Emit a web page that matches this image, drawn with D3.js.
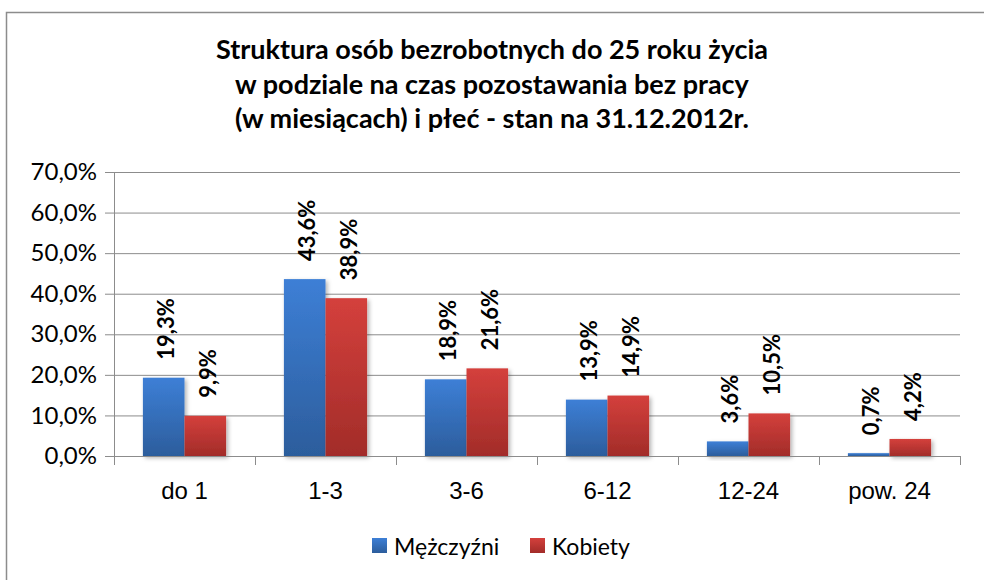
<!DOCTYPE html>
<html>
<head>
<meta charset="utf-8">
<script src="https://cdn.jsdelivr.net/npm/d3@7"></script>
<style>
  body { margin: 0; background: #fff; }
  svg { display: block; font-family: Lato, "Open Sans", sans-serif; }
</style>
</head>
<body>
<svg class="chart" width="984" height="580"></svg>
<script>
const categories = ["do 1", "1-3", "3-6", "6-12", "12-24", "pow. 24"],
      seriesNames = ["Mężczyźni", "Kobiety"],
      men = [19.3, 43.6, 18.9, 13.9, 3.6, 0.7],
      women = [9.9, 38.9, 21.6, 14.9, 10.5, 4.2],
      yTicks = [0, 10, 20, 30, 40, 50, 60, 70],
      titleLines = ["Struktura osób bezrobotnych do 25 roku życia",
                    "w podziale na czas pozostawania bez pracy",
                    "(w miesiącach) i płeć - stan na 31.12.2012r."]

const colors = [["#3d7fd6", "#2c5d9c"], ["#d4403c", "#a22c29"]]

const margin = { top: 172, left: 114 },
      width = 960 - margin.left,
      height = 456 - margin.top

const fmt = v => d3.format(".1f")(v).replace(".", ",") + "%"

const chart = d3.select(".chart")

// outer chart frame (continues past the picture edge)
chart.append("rect")
  .attr("x", 6.5).attr("y", 12.5)
  .attr("width", 1000).attr("height", 600)
  .attr("fill", "none").attr("stroke", "#8c8c8c").attr("stroke-width", 1.5)

const defs = chart.append("defs")
colors.forEach(function(c, i) {
  const gr = defs.append("linearGradient").attr("id", "grad" + i)
    .attr("x1", 0).attr("y1", 0).attr("x2", 0).attr("y2", 1)
  gr.append("stop").attr("offset", "0%").attr("stop-color", c[0])
  gr.append("stop").attr("offset", "100%").attr("stop-color", c[1])
})
const sh = defs.append("filter").attr("id", "shadow")
  .attr("x", "-20%").attr("y", "-20%").attr("width", "150%").attr("height", "150%")
sh.append("feDropShadow").attr("dx", 2).attr("dy", 2).attr("stdDeviation", 2)
  .attr("flood-color", "#000").attr("flood-opacity", 0.3)

// title
chart.append("text")
  .attr("x", 492).attr("y", 59)
  .attr("text-anchor", "middle")
  .style("font-size", "27px").style("font-weight", "bold")
  .selectAll("tspan").data(titleLines).join("tspan")
    .attr("x", 492).attr("dy", (d, i) => i ? 34.5 : 0)
    .text(d => d)

const x = d3.scaleBand().domain(categories).range([0, width]).paddingInner(0.41).paddingOuter(0.205)
const xs = d3.scaleBand().domain([0, 1]).range([0, x.bandwidth()])
const y = d3.scaleLinear().domain([0, 70]).range([height, 0])

const g = chart.append("g")
  .attr("transform", "translate(" + margin.left + "," + margin.top + ")")

// gridlines
g.append("g")
  .selectAll("line").data(yTicks.slice(1)).join("line")
    .attr("x1", 0).attr("x2", width)
    .attr("y1", d => y(d) + 0.5).attr("y2", d => y(d) + 0.5)
    .attr("stroke", "#8c8c8c")

// y axis
const yAxis = g.append("g")
  .attr("class", "axis axis--y")
  .call(d3.axisLeft(y).tickValues(yTicks).tickSize(9).tickPadding(8).tickFormat(fmt))
yAxis.selectAll("line, path").attr("stroke", "#8c8c8c")
yAxis.select(".domain").attr("d", "M0.5," + (height + 0.5) + "V0.5")
yAxis.selectAll("text").style("font-size", "24px").attr("fill", "#000").attr("font-family", "Lato")

// bars
const series = [men, women]
series.forEach(function(vals, s) {
  g.append("g").selectAll("rect").data(vals).join("rect")
    .attr("x", (d, i) => x(categories[i]) + xs(s))
    .attr("y", d => y(d))
    .attr("width", xs.bandwidth())
    .attr("height", d => height - y(d))
    .attr("fill", "url(#grad" + s + ")")
    .attr("filter", "url(#shadow)")

  g.append("g").selectAll("text").data(vals).join("text")
    .attr("transform", (d, i) => "translate(" + (x(categories[i]) + xs(s) + xs.bandwidth() / 2 + 2) + "," + (y(d) - 18) + ") rotate(-90)")
    .attr("dominant-baseline", "central")
    .style("font-size", "22px").style("font-weight", "bold")
    .text(fmt)
})

// x axis
const xAxis = g.append("g")
  .attr("class", "axis axis--x")
  .attr("transform", "translate(0," + height + ")")
  .call(d3.axisBottom(x).tickSize(0).tickPadding(26))
xAxis.select(".domain").attr("d", "M0,0.5H" + width).attr("stroke", "#8c8c8c")
xAxis.selectAll("text").style("font-size", "24px").attr("fill", "#000")
g.append("g").selectAll("line").data(d3.range(categories.length + 1)).join("line")
  .attr("x1", i => Math.round(i * width / categories.length) + 0.5)
  .attr("x2", i => Math.round(i * width / categories.length) + 0.5)
  .attr("y1", height).attr("y2", height + 9)
  .attr("stroke", "#8c8c8c")

// legend
const legend = chart.append("g").attr("transform", "translate(372,538)")
const items = legend.selectAll("g").data(seriesNames).join("g")
  .attr("transform", (d, i) => "translate(" + (i * 158) + ",0)")
items.append("rect").attr("width", 15).attr("height", 15)
  .attr("fill", (d, i) => "url(#grad" + i + ")")
items.append("text").attr("x", 22).attr("y", 8)
  .attr("dominant-baseline", "central")
  .style("font-size", "23px")
  .text(d => d)
</script>
</body>
</html>
